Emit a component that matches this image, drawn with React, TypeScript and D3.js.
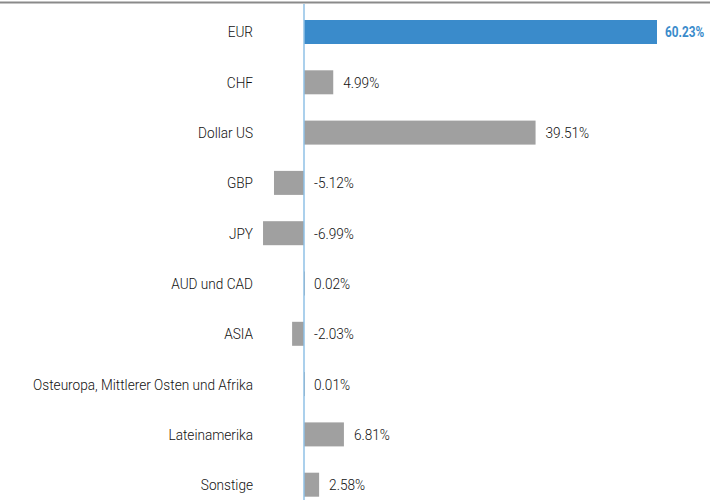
import React from "react";
import * as d3 from "d3";

const categories = [
  "EUR",
  "CHF",
  "Dollar US",
  "GBP",
  "JPY",
  "AUD und CAD",
  "ASIA",
  "Osteuropa, Mittlerer Osten und Afrika",
  "Lateinamerika",
  "Sonstige",
];
const values = [60.23, 4.99, 39.51, -5.12, -6.99, 0.02, -2.03, 0.01, 6.81, 2.58];
const highlight = [true, false, false, false, false, false, false, false, false, false];

const W = 710;
const H = 500;
const FONT = "Roboto, 'Liberation Sans Narrow', sans-serif";
const SX = 0.88;
const FS = 15.5;

export default function App() {
  const x = d3.scaleLinear().domain([0, 60.23]).range([304, 657]);
  const y = d3.scalePoint<string>().domain(categories).range([32, 484.7]);
  const barH = 24;
  const fmt = (v: number) => v.toFixed(2) + "%";

  return (
    <svg
      width={W}
      height={H}
      style={{ position: "absolute", left: 0, top: 0, background: "#fff" }}
      fontFamily={FONT}
    >
      <line x1={0} x2={W} y1={2.5} y2={2.5} stroke="#8a8a8a" strokeWidth={2} />
      {categories.map((c, i) => {
        const v = values[i];
        const cy = y(c)!;
        const x0 = x(Math.min(0, v));
        const x1 = x(Math.max(0, v));
        const hl = highlight[i];
        return (
          <g key={c}>
            <text
              transform={`translate(253,${cy}) scale(${SX},1)`}
              dy="0.35em"
              textAnchor="end"
              fontSize={FS}
              fontWeight={300}
              fill="#111"
            >
              {c}
            </text>
            <rect
              x={x0}
              y={cy - barH / 2}
              width={Math.max(x1 - x0, 1)}
              height={barH}
              fill={hl ? "#3a8bcb" : "#a0a0a0"}
            />
            <text
              transform={`translate(${x(Math.max(0, v)) + (hl ? 8 : 10)},${cy}) scale(${hl ? 0.76 : SX},1)`}
              dy="0.35em"
              fontSize={FS}
              fontWeight={hl ? 700 : 300}
              fill={hl ? "#3a8bcb" : "#111"}
            >
              {fmt(v)}
            </text>
          </g>
        );
      })}
      <line x1={x(0)} x2={x(0)} y1={4} y2={H} stroke="#8fc0e6" strokeWidth={1.5} />
    </svg>
  );
}
